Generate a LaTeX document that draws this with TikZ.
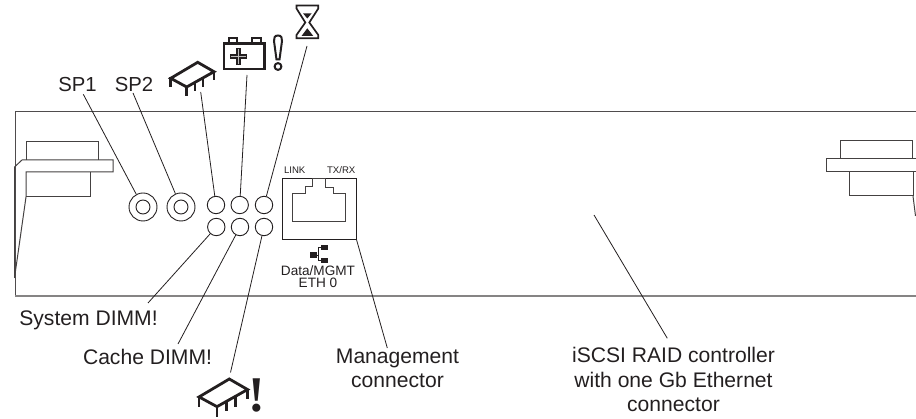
\documentclass[tikz,border=0pt]{standalone}
\usepackage{fontspec}
\setmainfont{Liberation Sans}
\newfontfamily\serifbang{Liberation Serif}
\definecolor{ink}{HTML}{231F20}
\tikzset{
  thinline/.style={draw=ink,line width=0.8pt},
  partline/.style={draw=ink!85,line width=1pt,line join=miter},
  led/.style={circle,draw=ink,line width=0.9pt,minimum size=17.4pt,inner sep=0pt},
  spring/.style={circle,draw=ink,line width=0.9pt,minimum size=28pt,inner sep=0pt},
  lab/.style={anchor=base,inner sep=0pt,text=ink,font=\fontsize{21.1}{24.5}\selectfont,align=center},
  splab/.style={anchor=base,inner sep=0pt,text=ink,font=\fontsize{20.3}{24.5}\selectfont},
  small/.style={anchor=base,inner sep=0pt,text=ink,font=\fontsize{9.6}{10}\selectfont},
  mid/.style={anchor=base,inner sep=0pt,text=ink,font=\fontsize{13.6}{12}\selectfont},
  icon/.style={draw=ink,line width=2.8pt,line join=miter},
  sq/.style={fill=ink,draw=none,minimum width=6.4pt,minimum height=5.4pt,inner sep=0pt}
}
\newcommand{\chipicon}[3]{%
  \begin{scope}[shift={(#1,#2)},scale=#3]
    \draw[icon] (0,0) -- (16.3,9.4) -- (-11,24.7) -- (-27,16) -- cycle;
    \draw[icon,line width=2.6pt] (-27,15) -- (-27,25);
    \draw[icon,line width=2.6pt] (-11,24) -- (-11,34);
    \draw[icon,line width=2.6pt] (-2.7,20) -- (-2.7,28.5);
    \draw[icon,line width=2.6pt] (5.3,15.5) -- (5.3,25);
    \draw[icon,line width=2.6pt] (16.3,9) -- (16.3,18);
  \end{scope}}
\begin{document}
\begin{tikzpicture}[x=1pt,y=-1pt]
\useasboundingbox (0,0) rectangle (916,419);
% panel
\draw[draw=ink!80,line width=1pt] (916,112) -- (15,112) -- (15,296);
\draw[draw=ink!55,line width=1.6pt] (15,296) -- (916,296);
% left connector
\draw[partline] (26.5,160) -- (26.5,142) -- (98.7,142) -- (98.7,160);
\draw[partline] (14.5,278) -- (14.5,167) -- (22,160) -- (113,160) -- (113,172) -- (26,172) -- (26,197) -- (14.5,278);
\draw[partline] (90,172) -- (90,197) -- (26,197);
% right connector
\draw[partline] (840.7,159) -- (840.7,141) -- (912.7,141) -- (912.7,159);
\draw[partline] (916,159) -- (826,159) -- (826,171.7) -- (916,171.7);
\draw[partline] (849.3,171.7) -- (849.3,196) -- (913,196) -- (913,171.7);
\draw[partline] (913,196) -- (915.5,216);
% lamps
\node[spring] (sp1) at (143,207) {};
\node[spring] (sp2) at (181,207) {};
\node[circle,draw=ink,line width=0.9pt,minimum size=14pt,inner sep=0pt] (sp1i) at (143,207) {};
\node[circle,draw=ink,line width=0.9pt,minimum size=14pt,inner sep=0pt] (sp2i) at (181,207) {};
\node[led] (a1) at (216,205) {};
\node[led] (a2) at (239.7,205) {};
\node[led] (a3) at (264,205) {};
\node[led] (b1) at (216.3,227) {};
\node[led] (b2) at (240,227) {};
\node[led] (b3) at (264,227) {};
% ethernet port
\node[draw=ink,line width=1pt,minimum width=73.7pt,minimum height=61pt,inner sep=0pt] (port) at (319.2,208.8) {};
\draw[partline] (292.3,221.7) -- (345.7,221.7) -- (345.7,193.3) -- (333.3,193.3) -- (333.3,187.3) -- (325.7,187.3) -- (325.7,178.3) -- (312.7,178.3) -- (312.7,186.7) -- (305.7,186.7) -- (305.7,193.3) -- (292.3,193.3) -- cycle;
\node[small] (linklab) at (294.7,174) {LINK};
\node[small] (txlab) at (341.2,174) {TX/RX};
% network symbol
\node[sq] (n1) at (324.3,247.7) {};
\node[sq] (n2) at (324.3,260.7) {};
\node[sq] (n3) at (313.3,255) {};
\coordinate (nj1) at (318.3,247.7);
\coordinate (nj2) at (318.3,260.7);
\coordinate (nj3) at (318.3,255);
\draw[thinline] (n1) -- (nj1) -- (nj2) -- (n2);
\draw[thinline] (n3) -- (nj3);
\node[mid] (dm) at (318,276) {Data/MGMT};
\node[mid] (eth) at (318,288) {ETH 0};
% labels
\node[splab] (l1) at (77.5,91.7) {SP1};
\node[splab] (l2) at (134,91.7) {SP2};
\node[lab] (l3) at (88.5,325.7) {System DIMM!};
\node[lab] (l4) at (147.5,365) {Cache DIMM!};
\node[lab] (l5) at (397.5,388) {Management\\connector};
\node[lab] (l6) at (673.5,411.7) {iSCSI RAID controller\\with one Gb Ethernet\\connector};
% icons
\chipicon{197.7}{62.3}{1}
\chipicon{229.3}{379}{1.12}
\draw[icon,line width=2.6pt] (224,43.3) rectangle (264.3,69);
\draw[icon,line width=2pt] (229.3,43) -- (229.3,38) -- (237.3,38) -- (237.3,43);
\draw[icon,line width=2pt] (252,43) -- (252,38) -- (260.5,38) -- (260.5,43);
\draw[draw=ink,line width=5.6pt] (230,56.7) -- (246.6,56.7) (238.3,48.4) -- (238.3,65);
\draw[draw=white!70!ink,line width=0.6pt] (231,56.7) -- (245.6,56.7) (238.3,49.4) -- (238.3,64);
% hollow exclamation
\draw[draw=ink,line width=2pt] (278,35.5) .. controls (274.5,35.5) and (273.8,38) .. (274,41) -- (276.5,59.5) -- (279.5,59.5) -- (282,41) .. controls (282.2,38) and (281.5,35.5) .. (278,35.5) -- cycle;
\draw[draw=ink,line width=2pt] (278,66.5) circle[radius=3.4];
% hourglass
\draw[icon,line width=1.7pt] (296.5,5.5) -- (318.3,5.5) -- (318.3,8.5) -- (309.3,22.5) -- (318.3,35) -- (318.3,38.3) -- (296.5,38.3) -- (296.5,35) -- (305.3,22.5) -- (296.5,8.5) -- cycle;
\fill[ink] (303,13.3) -- (311.7,13.3) -- (307.3,18.5) -- cycle;
\fill[ink] (301.5,36) -- (313.3,36) -- (307.3,28.3) -- cycle;
% bang
\node[anchor=base,inner sep=0pt,text=ink,scale=2,font=\serifbang\bfseries\fontsize{25}{25}\selectfont] (bang) at (256.7,411.5) {!};
% connectors
\coordinate (c1) at (83.3,94.3);
\coordinate (c2) at (133,93);
\coordinate (c3) at (200.7,92);
\coordinate (c4) at (247,75);
\coordinate (c5) at (307,46);
\coordinate (c6) at (148,303);
\coordinate (c7) at (178,344);
\coordinate (c8) at (230.5,372.5);
\coordinate (c9) at (387.3,348);
\coordinate (c10) at (667.3,338.3);
\coordinate (c11) at (594,215);
\draw[thinline] (c1) -- (sp1);
\draw[thinline] (c2) -- (sp2);
\draw[thinline] (c3) -- (a1);
\draw[thinline] (c4) -- (a2);
\draw[thinline] (c5) -- (a3);
\draw[thinline] (c6) -- (b1);
\draw[thinline] (c7) -- (b2);
\draw[thinline] (c8) -- (b3);
\draw[thinline] (c9) -- (port.south east);
\draw[thinline] (c10) -- (c11);
\end{tikzpicture}
\end{document}
